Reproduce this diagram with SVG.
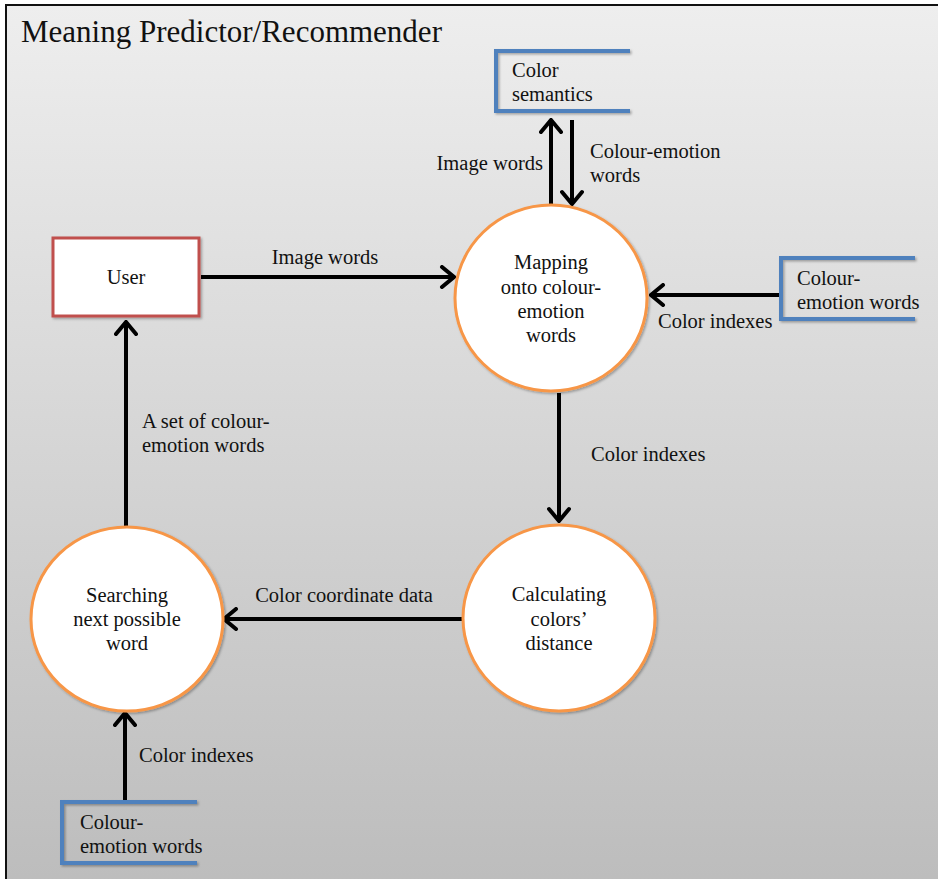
<svg xmlns="http://www.w3.org/2000/svg" width="938" height="879" viewBox="0 0 938 879">
  <defs>
    <linearGradient id="bg" x1="0" y1="0" x2="0" y2="1">
      <stop offset="0" stop-color="#eeeeee"/>
      <stop offset="1" stop-color="#bcbcbc"/>
    </linearGradient>
    <filter id="shadow" x="-10%" y="-10%" width="130%" height="130%">
      <feDropShadow dx="1.5" dy="1.5" stdDeviation="1.2" flood-color="#000" flood-opacity="0.3"/>
    </filter>
    <marker id="arrow" viewBox="-15 -12 17 24" refX="0" refY="0" markerWidth="17" markerHeight="24" markerUnits="userSpaceOnUse" orient="auto">
      <path d="M -12 -10 L 0 0 L -12 10" fill="none" stroke="#000" stroke-width="4" stroke-linecap="round" stroke-linejoin="miter"/>
    </marker>
    <style>
      text { font-family: "Liberation Serif", "Times New Roman", serif; fill: #111; font-size: 20.5px; }
      .c { text-anchor: middle; }
      .r { text-anchor: end; }
      .proc { fill: #fff; stroke: #f79646; stroke-width: 3; filter: url(#shadow); }
      .store { fill: none; stroke: #4f81bd; stroke-width: 4; filter: url(#shadow); }
      .ext { fill: #fff; stroke: #c0504d; stroke-width: 3; filter: url(#shadow); }
      .flow { fill: none; stroke: #000; stroke-width: 4; marker-end: url(#arrow); }
    </style>
  </defs>

  <!-- frame -->
  <rect x="6" y="5" width="940" height="890" fill="url(#bg)" stroke="#111" stroke-width="2"/>
  <text x="21" y="42" style="font-size:31px">Meaning Predictor/Recommender</text>

  <!-- connectors -->
  <g id="connectors">
    <line class="flow" x1="201" y1="277" x2="454" y2="277"/>
    <line class="flow" x1="551" y1="207" x2="551" y2="120"/>
    <line class="flow" x1="572" y1="120" x2="572" y2="204"/>
    <line class="flow" x1="779" y1="295" x2="651" y2="295"/>
    <line class="flow" x1="559" y1="393" x2="559" y2="521"/>
    <line class="flow" x1="462" y1="619" x2="224" y2="619"/>
    <line class="flow" x1="126" y1="527" x2="126" y2="322"/>
    <line class="flow" x1="125" y1="800" x2="125" y2="713"/>

    <text x="325" y="264" class="c">Image words</text>
    <text x="543" y="170" class="r">Image words</text>
    <text x="590" y="158">Colour-emotion</text>
    <text x="590" y="182">words</text>
    <text x="658" y="328">Color indexes</text>
    <text x="591" y="461">Color indexes</text>
    <text x="344" y="602" class="c">Color coordinate data</text>
    <text x="142" y="428">A set of colour-</text>
    <text x="142" y="452">emotion words</text>
    <text x="139" y="762">Color indexes</text>
  </g>

  <!-- external entity -->
  <g id="user">
    <rect class="ext" x="53" y="238" width="146" height="78"/>
    <text x="126" y="284" class="c">User</text>
  </g>

  <!-- processes -->
  <g id="mapping">
    <ellipse class="proc" cx="551" cy="298" rx="96" ry="93"/>
    <text x="551" y="269" class="c">Mapping</text>
    <text x="551" y="294" class="c">onto colour-</text>
    <text x="551" y="318" class="c">emotion</text>
    <text x="551" y="342" class="c">words</text>
  </g>

  <g id="calculating">
    <ellipse class="proc" cx="559" cy="618" rx="96" ry="93"/>
    <text x="559" y="601" class="c">Calculating</text>
    <text x="559" y="626" class="c">colors’</text>
    <text x="559" y="650" class="c">distance</text>
  </g>

  <g id="searching">
    <ellipse class="proc" cx="127" cy="619" rx="96" ry="92"/>
    <text x="127" y="602" class="c">Searching</text>
    <text x="127" y="626" class="c">next possible</text>
    <text x="127" y="650" class="c">word</text>
  </g>

  <!-- data stores -->
  <g id="color-semantics">
    <path class="store" d="M 630 51 L 496 51 L 496 111 L 630 111"/>
    <text x="512" y="77">Color</text>
    <text x="512" y="101">semantics</text>
  </g>

  <g id="colour-emotion-right">
    <path class="store" d="M 915 258 L 781 258 L 781 319 L 915 319"/>
    <text x="797" y="285">Colour-</text>
    <text x="797" y="309">emotion words</text>
  </g>

  <g id="colour-emotion-bottom">
    <path class="store" d="M 197 802 L 62 802 L 62 863 L 197 863"/>
    <text x="80" y="829">Colour-</text>
    <text x="80" y="853">emotion words</text>
  </g>
</svg>
